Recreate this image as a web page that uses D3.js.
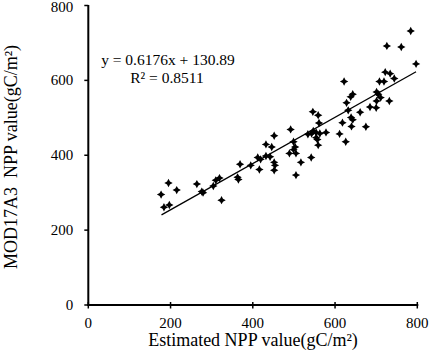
<!DOCTYPE html>
<html>
<head>
<meta charset="utf-8">
<script src="https://cdn.jsdelivr.net/npm/d3@7"></script>
<style>
  body { margin: 0; background: #fff; }
  text { font-family: "Liberation Serif", "Times New Roman", serif; fill: #000; }
</style>
</head>
<body>
<div id="chart"></div>
<script>
// Estimated NPP (x) vs MOD17A3 NPP (y)
const estimated = [
  177, 195, 184, 197, 215, 264, 276, 279, 304, 310, 319, 324, 363, 365, 369,
  395, 412, 419, 416, 432, 446, 432, 442, 452, 452, 454, 452,
  492, 499, 503, 499, 489, 505, 517, 505, 542,
  546, 559, 561, 547, 554, 534, 543, 563, 578, 554, 557, 559,
  611, 618, 626, 622, 628, 638, 643, 632, 639, 643, 640, 661, 675,
  685, 700, 701, 705, 711, 701, 732, 708, 719, 722, 734, 744, 726, 761, 784, 797
];
const modis = [
  295, 326, 261, 267, 307, 323, 303, 300, 318, 333, 339, 280, 341, 335, 376,
  373, 394, 389, 362, 429, 422, 398, 396, 452, 381, 373, 360,
  469, 436, 422, 415, 405, 405, 381, 347, 394,
  516, 507, 486, 465, 461, 456, 458, 458, 461, 447, 442, 427,
  457, 487, 436, 597, 540, 556, 563, 520, 501, 495, 477, 515, 476,
  529, 527, 569, 563, 554, 545, 545, 597, 597, 622, 618, 605, 692, 689, 732, 644
];
const xTicks = [0, 200, 400, 600, 800];
const yTicks = [0, 200, 400, 600, 800];
const slope = 0.6176, intercept = 130.89;
const fitRange = [178, 797];

const points = estimated.map((e, i) => ({ x: e, y: modis[i] }));

const width = 429, height = 361;
const svg = d3.select("#chart").append("svg")
  .attr("width", width)
  .attr("height", height);

const x = d3.scaleLinear().domain([0, 800]).range([88.3, 417.3]);
const y = d3.scaleLinear().domain([0, 800]).range([305, 5.5]);

// x axis (ticks cross the line)
const gx = svg.append("g").attr("transform", `translate(0,${y(0)})`);
gx.append("line")
  .attr("x1", x(0) - 1).attr("x2", x(800) + 1)
  .attr("stroke", "#000").attr("stroke-width", 2);
gx.selectAll("line.tick").data(xTicks).enter().append("line")
  .attr("class", "tick")
  .attr("x1", d => x(d)).attr("x2", d => x(d))
  .attr("y1", -3).attr("y2", 3.5)
  .attr("stroke", "#000").attr("stroke-width", 1.5);
gx.selectAll("text").data(xTicks).enter().append("text")
  .attr("x", d => x(d)).attr("y", 23)
  .attr("text-anchor", "middle")
  .attr("font-size", "15px")
  .text(d => d);

// y axis
const gy = svg.append("g").attr("transform", `translate(${x(0)},0)`);
gy.append("line")
  .attr("y1", y(0) + 1).attr("y2", y(800) - 0.5)
  .attr("stroke", "#000").attr("stroke-width", 2);
gy.selectAll("line.tick").data(yTicks).enter().append("line")
  .attr("class", "tick")
  .attr("y1", d => y(d)).attr("y2", d => y(d))
  .attr("x1", -4).attr("x2", 0)
  .attr("stroke", "#000").attr("stroke-width", 1.5);
gy.selectAll("text").data(yTicks).enter().append("text")
  .attr("x", -15).attr("y", d => Math.max(y(d) + 5, 12))
  .attr("text-anchor", "end")
  .attr("font-size", "15px")
  .text(d => d);

// axis titles
svg.append("text")
  .attr("x", 253).attr("y", 346)
  .attr("text-anchor", "middle")
  .attr("font-size", "18px")
  .text("Estimated NPP value(gC/m²)");

svg.append("text")
  .attr("transform", "rotate(-90)")
  .attr("x", -157).attr("y", 17)
  .attr("text-anchor", "middle")
  .attr("font-size", "18px")
  .attr("xml:space", "preserve")
  .style("white-space", "pre")
  .text("MOD17A3  NPP value(gC/m²)");

// regression line
svg.append("line")
  .attr("x1", x(fitRange[0])).attr("y1", y(slope * fitRange[0] + intercept))
  .attr("x2", x(fitRange[1])).attr("y2", y(slope * fitRange[1] + intercept))
  .attr("stroke", "#000").attr("stroke-width", 1.3);

// four-point star marker
const star = {
  draw(ctx, size) {
    const r = Math.sqrt(size) / 2, w = r * 0.35;
    ctx.moveTo(0, -r);
    ctx.lineTo(w, -w); ctx.lineTo(r, 0); ctx.lineTo(w, w);
    ctx.lineTo(0, r); ctx.lineTo(-w, w); ctx.lineTo(-r, 0); ctx.lineTo(-w, -w);
    ctx.closePath();
  }
};

svg.selectAll("path.pt").data(points).enter().append("path")
  .attr("class", "pt")
  .attr("transform", d => `translate(${x(d.x)},${y(d.y)})`)
  .attr("d", d3.symbol().type(star).size(70))
  .attr("fill", "#000");

// equation
svg.append("text")
  .attr("x", 168).attr("y", 65)
  .attr("text-anchor", "middle")
  .attr("font-size", "15.5px")
  .text(`y = ${slope}x + ${intercept}`);
svg.append("text")
  .attr("x", 167).attr("y", 83)
  .attr("text-anchor", "middle")
  .attr("font-size", "15.5px")
  .text("R² = 0.8511");
</script>
</body>
</html>
